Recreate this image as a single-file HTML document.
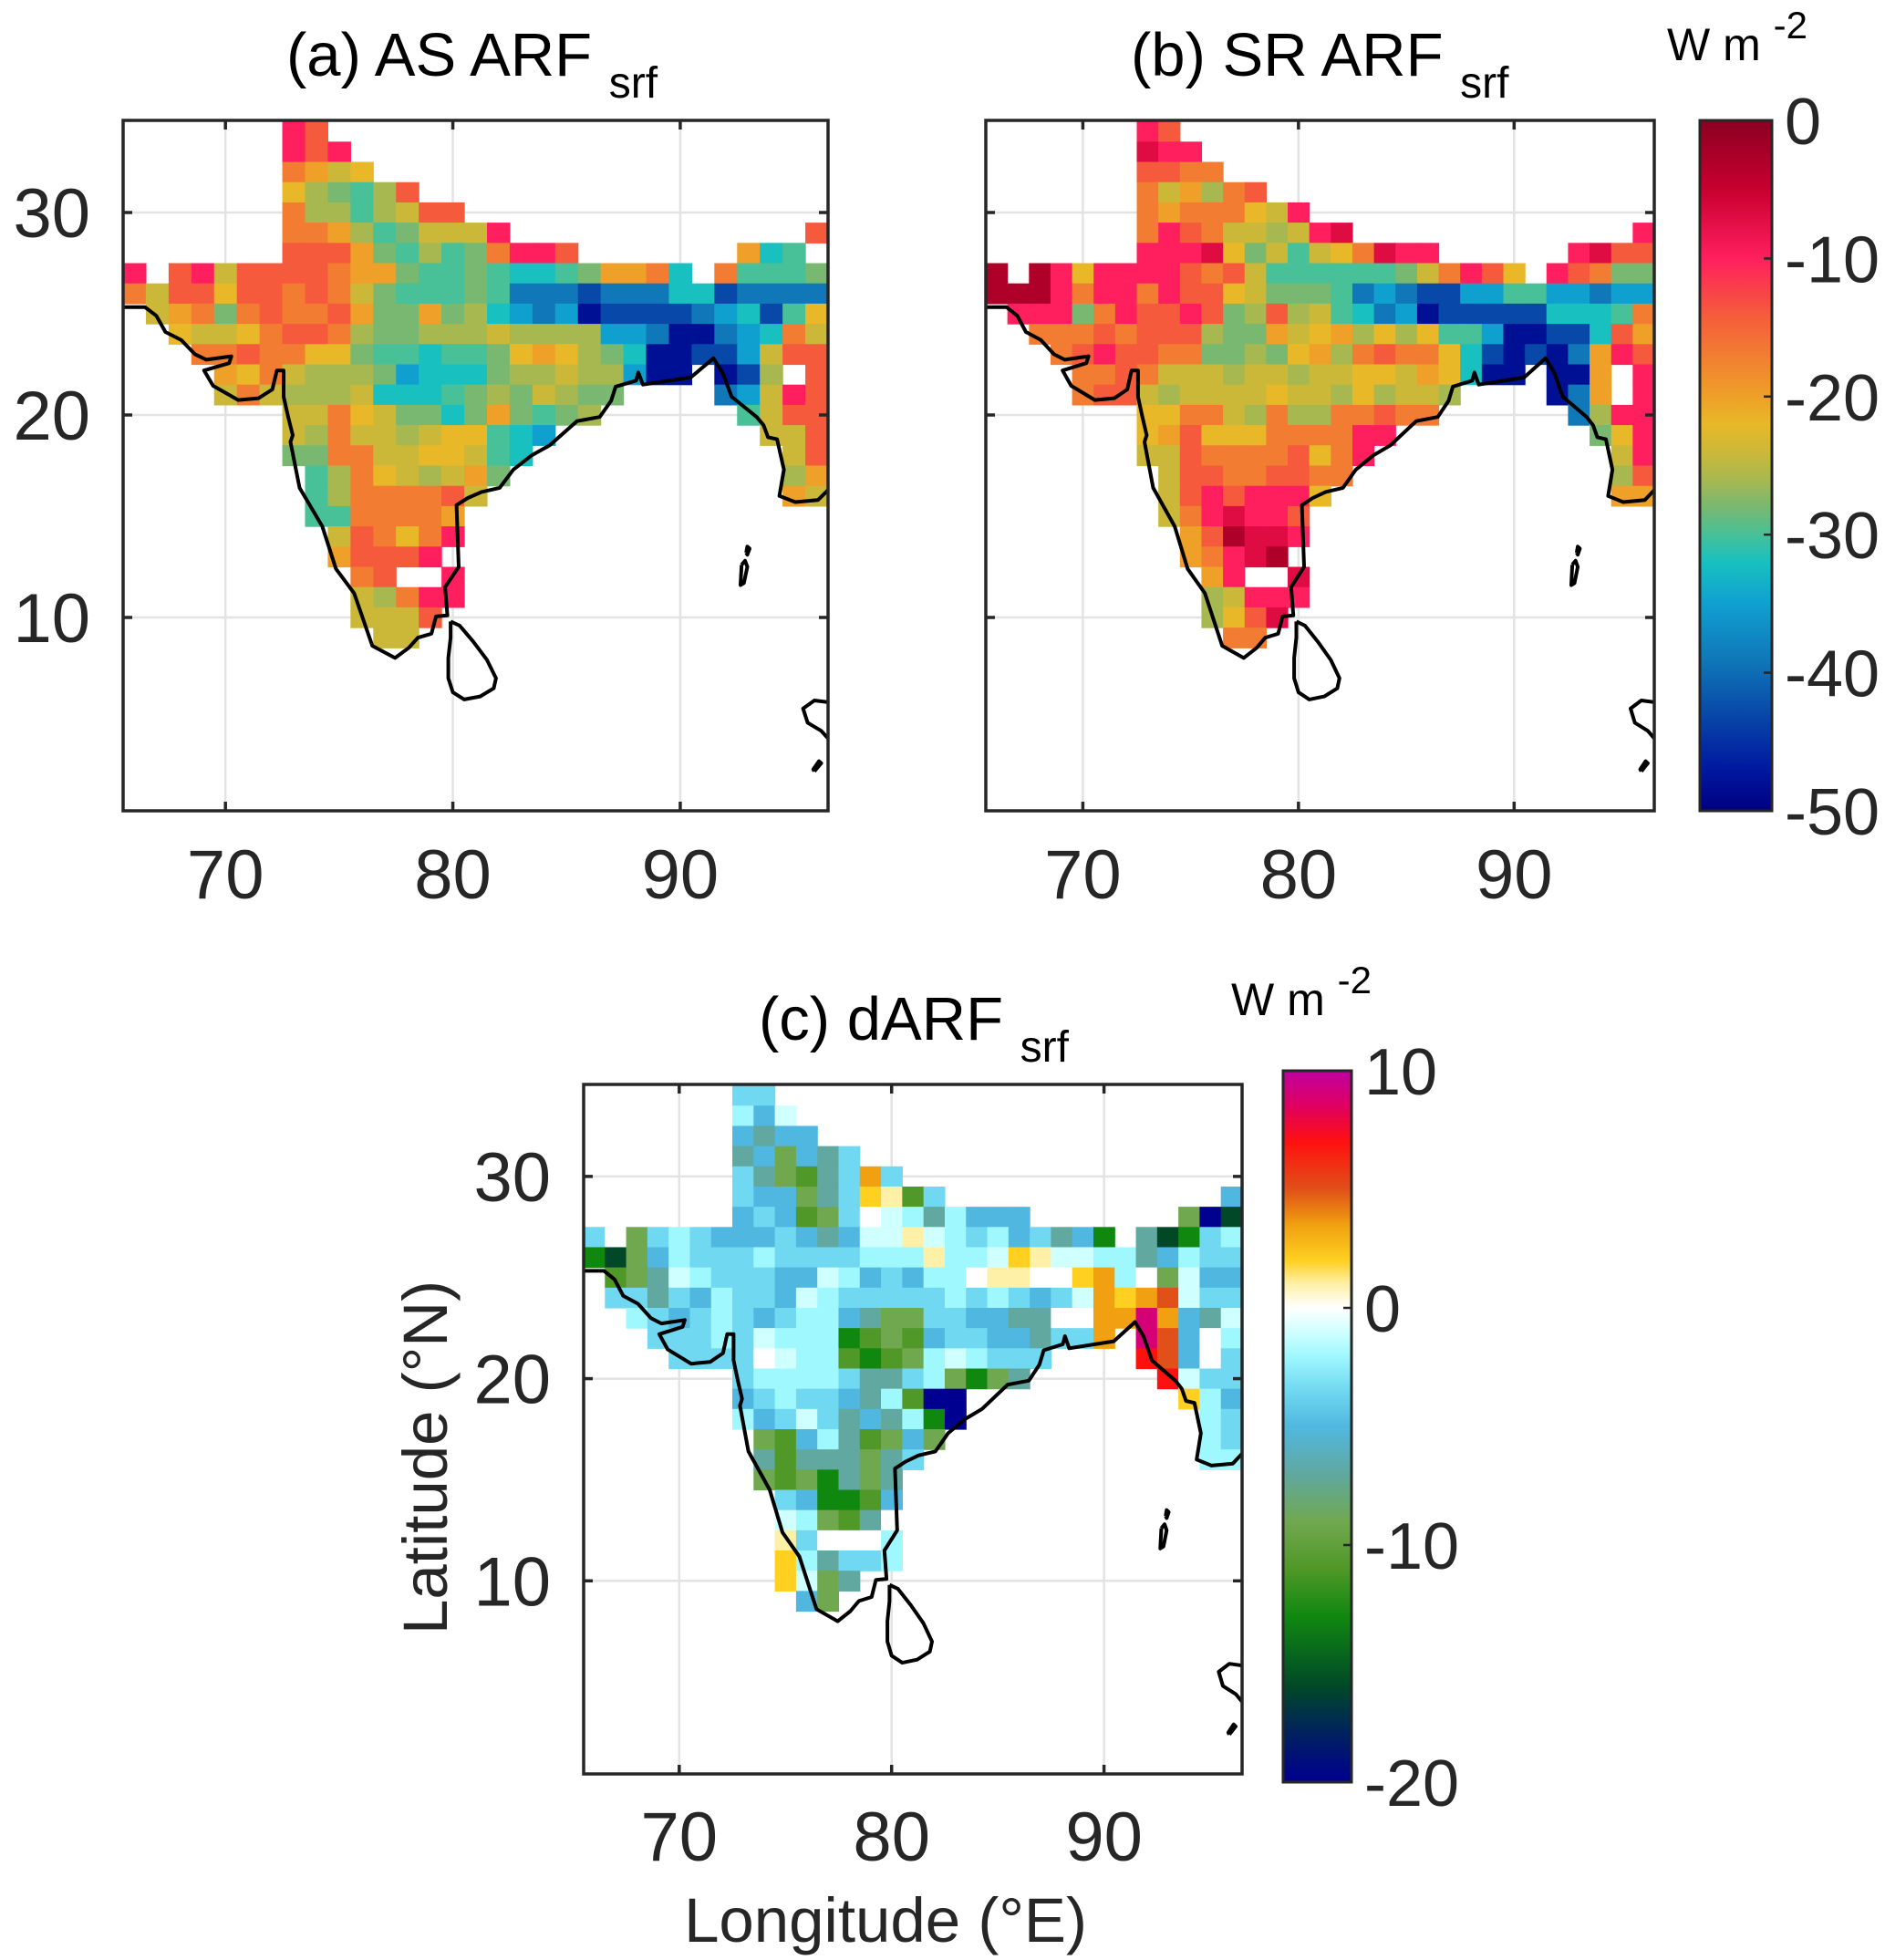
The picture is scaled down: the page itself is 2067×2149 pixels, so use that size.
<!DOCTYPE html>
<html><head><meta charset="utf-8"><style>
html,body{margin:0;padding:0;background:#fff}
svg{display:block;font-family:"Liberation Sans",Arial,sans-serif}
</style></head><body>
<svg id="fig" width="2067" height="2149" viewBox="0 0 2067 2149" xmlns="http://www.w3.org/2000/svg">
<defs>
<linearGradient id="gradAB" x1="0" y1="0" x2="0" y2="1"></linearGradient>
<linearGradient id="gradC" x1="0" y1="0" x2="0" y2="1"></linearGradient>
</defs>
<g id="layer"></g>
</svg>
<script>
// ---- data ----
const lats = [34,33,32,31,30,29,28,27,26,25,24,23,22,21,20,19,18,17,16,15,14,13,12,11,10,9,8];
const lonStart = 66;
const xTicks = [70,80,90];
const yTicks = [10,20,30];
const cbTicksAB = [0,-10,-20,-30,-40,-50];
const cbTicksC = [10,0,-10,-20];
// code -> W m-2 (panels a,b)
const codeValAB = {a:-3,b:-7,c:-10,d:-14,e:-17,f:-20,g:-22,h:-24,i:-26,j:-28,k:-30,l:-32,m:-35,n:-39,o:-43,p:-48};
// code -> W m-2 (panel c)
const codeValC = {A:9,B:7,C:5,D:3.5,E:2,F:1,G:0,H:-1,I:-2,J:-3.5,K:-5,L:-7,M:-9,N:-11,O:-13,P:-16,Q:-20};
const gridA = [
".......cd",".......cdc",".......efhg",".......gijkid",".......eiikihdd",
".......eefikjhhhc.............d",
".......dddfjkikjeccd.......flk",
"c.dchddddeffjkkjkllkjffel.ekkkj",
"ehddgddedehjkkkjknnnonnnllonnnn",
".hfejedeedfjjfjilmnmpoooonmlokg",
"..ghhgeddeijjiiihiiiimmnppnmleh",
"...eedeeggjkklkkjgfgijlppoomhdd",
"....fgehiiijmllljiihiimpp.poi.d",
"....hehiiihlllkjijhijj....nmhcd",
".......hheghjjljfjkji......khdd",
".......hiehhihggklm.........hhd",
".......jjeehhgghkl...........hd",
"........kieghihfj............if",
"........kieeeedh.............fh",
"........kkeeeef",".........hdegec",".........fdddc.","..........ed..c",
"..........hiecc","..........hhhd.","...........hh..",""];
const gridB = [
".......cd",".......bcc",".......ddee",".......ehfied",".......efeeeghc",
".......ecdehhihcb.............c",
".......cccbgjhkhgebcc......cbdd",
"a.acgccccdedhkkkkkkjhecdg.cdejj",
"aaaceccecddghjjjknmnoommkkmmnmm",
".cccjecddcdjidihklnmpooooolllke",
"..eeededddijjfhgfigigkkmppooldf",
"...edcddeejjijgfiedeeglopopnfcd",
"....eedehhhihhihhgghfglpp.ppf.c",
"....eddhihhhhghhigihhi....pnf.c",
".......ggeehieiieedee......nicc",
".......gfdgggeeeecc.........jgc",
".......hhdeeeedgec...........hc",
"........hddeeddee............id",
"........hdcdcccg.............ff",
"........hecbccd",".........fdabbc",".........fecba.","..........fc..b",
"..........ihccc","..........igdb.","...........ee..",""];
const gridC = [
".......JJ",".......IKH",".......KLKK",".......LKMKLJ",".......JLMNLJDJ",
".......JKKMLJEFNJ.............K",
".......KJKNMJGHILIKKK.......MQP",
"JGMJIJKKKJKLKHHFHIJIKJLKO.LPOJI",
"OPMKIJJJIJJJJIIIFIIHEFHHIILKIJJ",
".NMLHIJJJKKHIKJKIIGFFGGEDIGMHKK",
".JJLJKIJJKHIJJJJJIJIJKJHDEDCHJJ",
"..IJKJIJKJIIKLMMJJKKLLGGDDADKLH",
"...JJJIJHIIIONMNKJJKKLJJD.ACKGI",
"....JJJJGHIINONMIHIJJJ....BCKGJ",
".......JIIIIJLLJIMOML......BHJJ",
".......KJIJJKLINQQ..........EIK",
".......IKJHJLKLIOQ...........IJ",
"........MNKILNMKM............IJ",
"........LNLLLMLJ.............II",
"........MNMOLML",".........JKOONK",".........HIMNLG",".........FJGGGI",
".........EILJJI",".........EHML..","..........KM...",""];
// coastline (lon, lat)
const coastMain = [[65.4,25.33],[66.46,25.33],[66.96,24.9],[67.36,24.1],[68.06,23.7],[68.66,23.0],[69.16,22.73],[70.26,22.9],[70.16,22.56],[69.06,22.2],[69.46,21.44],[70.56,20.74],[71.46,20.83],[72.06,21.26],[72.26,22.2],[72.56,22.2],[72.56,20.9],[72.76,19.9],[72.96,19.0],[72.86,18.67],[73.26,16.4],[74.26,14.5],[74.86,12.4],[75.66,11.2],[76.46,8.6],[77.46,8.0],[78.06,8.5],[78.46,9.0],[79.06,9.2],[79.26,10.05],[79.76,10.1],[79.66,11.5],[80.26,12.5],[80.16,15.55],[80.66,15.9],[81.26,16.2],[82.06,16.4],[82.66,17.3],[83.46,18.0],[84.26,18.5],[85.46,19.7],[86.46,19.9],[86.96,20.7],[87.16,21.4],[88.06,21.7],[88.16,22.1],[88.36,21.5],[90.46,21.85],[91.46,22.8],[91.86,22.1],[92.26,20.9],[93.36,19.9],[93.66,19.5],[93.86,18.9],[94.26,18.8],[94.56,17.3],[94.36,16.0],[95.06,15.7],[96.06,15.8],[96.6,16.4]];
const coastLanka = [[79.9,9.8],[80.3,9.6],[80.9,8.8],[81.5,7.9],[81.9,7.0],[81.8,6.5],[81.2,6.1],[80.5,5.95],[80.0,6.3],[79.8,7.0],[79.8,8.0],[79.9,9.0],[79.9,9.8]];
const coastAndaman1 = [[92.7,12.6],[92.85,12.8],[92.95,12.5],[92.8,11.7],[92.65,11.6],[92.7,12.6]];
const coastAndaman2 = [[92.9,13.2],[92.95,13.5],[93.05,13.4],[92.95,13.1],[92.9,13.2]];
const coastMalay = [[96.6,5.8],[95.9,5.9],[95.4,5.5],[95.6,4.8],[96.2,4.4],[96.6,3.9]];
const coastIsle = [[95.9,2.4],[96.2,2.8],[96.1,2.9],[95.85,2.5],[95.9,2.4]];
// colormap stops
const stopsAB = [[0,'#8a0020'],[-5,'#c80030'],[-10,'#ff1f5e'],[-14,'#f55a3c'],[-17,'#f27d32'],[-20,'#eea028'],[-22,'#e8b828'],[-24,'#ccb838'],[-26,'#a8b850'],[-28,'#78b870'],[-30,'#48c098'],[-32,'#18c0c0'],[-35,'#10a0d0'],[-39,'#1078b8'],[-43,'#0848a8'],[-47,'#0018a0'],[-50,'#000080']];
const stopsC = [[10,'#c000a0'],[8.5,'#e00060'],[7,'#ff1010'],[5,'#e05018'],[3.5,'#f0a010'],[2,'#ffd020'],[1,'#fff0a8'],[0,'#ffffff'],[-1,'#d0ffff'],[-2,'#a0f8ff'],[-3.5,'#70d8f0'],[-5,'#50b8e0'],[-7,'#60a8a0'],[-9,'#70a850'],[-11,'#509828'],[-13,'#108810'],[-16,'#004828'],[-18,'#002060'],[-20,'#000090']];

// ---- drawing ----
const NS='http://www.w3.org/2000/svg';
const layer=document.getElementById('layer');
function el(tag,attrs,parent){const e=document.createElementNS(NS,tag);for(const k in attrs)e.setAttribute(k,attrs[k]);(parent||layer).appendChild(e);return e;}
function hex(c){return [parseInt(c.substr(1,2),16),parseInt(c.substr(3,2),16),parseInt(c.substr(5,2),16)];}
function cmap(stops,v){
  if(v>=stops[0][0])return stops[0][1];
  for(let i=0;i<stops.length-1;i++){const a=stops[i],b=stops[i+1];
    if(v<=a[0]&&v>=b[0]){const t=(a[0]-v)/(a[0]-b[0]);const ca=hex(a[1]),cb=hex(b[1]);
      return 'rgb('+ca.map((x,j)=>Math.round(x+(cb[j]-x)*t)).join(',')+')';}}
  return stops[stops.length-1][1];
}
function txt(x,y,s,size,anchor,parent,name){const t=el('text',{x:x,y:y,'font-size':size,'text-anchor':anchor||'start',fill:'#262626'},parent);t.textContent=s;
  
  return t;}

function panel(cfg){
  const g=el('g',{});
  
  
  const L=cfg.left,R=cfg.right,T=cfg.top,B=cfg.bottom;
  const xs=lon=>L+(lon-65.5)/(96.5-65.5)*(R-L);
  const ys=lat=>T+(34.55-lat)/(34.55-0.45)*(B-T);
  const cid='clip-'+cfg.name;
  const cp=el('clipPath',{id:cid},g);el('rect',{x:L,y:T,width:R-L,height:B-T},cp);
  xTicks.forEach(v=>{const l=el('line',{x1:xs(v),x2:xs(v),y1:T,y2:B,stroke:'#e3e3e3','stroke-width':2.5},g);
    });
  yTicks.forEach(v=>{const l=el('line',{x1:L,x2:R,y1:ys(v),y2:ys(v),stroke:'#e3e3e3','stroke-width':2.5},g);
    });
  const cg=el('g',{'clip-path':'url(#'+cid+')'},g);
  
  
  cfg.grid.forEach((row,ri)=>{
    const r=row.padEnd(31,'.');const lat=lats[ri];
    for(let ci=0;ci<31;ci++){const ch=r[ci];if(ch==='.')continue;const val=cfg.codes[ch];if(val===undefined)continue;
      const lon=lonStart+ci;
      const x0=xs(lon-0.5),x1=xs(lon+0.5),y0=ys(lat+0.5),y1=ys(lat-0.5);
      const c=el('rect',{x:x0.toFixed(2),y:y0.toFixed(2),width:(x1-x0+0.6).toFixed(2),height:(y1-y0+0.6).toFixed(2),fill:cmap(cfg.stops,val)},cg);
      
      
    }});
  [coastMain,coastLanka,coastAndaman1,coastAndaman2,coastMalay,coastIsle].forEach((cs,i)=>{
    const p=el('polyline',{points:cs.map(q=>xs(q[0]).toFixed(1)+','+ys(q[1]).toFixed(1)).join(' '),fill:'none',stroke:'#000','stroke-width':4,'stroke-linejoin':'round','clip-path':'url(#'+cid+')'},g);
    });
  const bx=el('rect',{x:L,y:T,width:R-L,height:B-T,fill:'none',stroke:'#262626','stroke-width':3.5},g);
  
  xTicks.forEach(v=>{el('line',{x1:xs(v),x2:xs(v),y1:B,y2:B-10,stroke:'#262626','stroke-width':3.5},g);el('line',{x1:xs(v),x2:xs(v),y1:T,y2:T+10,stroke:'#262626','stroke-width':3.5},g);
    txt(xs(v),cfg.xlabY,String(v),76,'middle',g,'x-tick-label-'+v);});
  yTicks.forEach(v=>{el('line',{x1:L,x2:L+10,y1:ys(v),y2:ys(v),stroke:'#262626','stroke-width':3.5},g);el('line',{x1:R,x2:R-10,y1:ys(v),y2:ys(v),stroke:'#262626','stroke-width':3.5},g);
    if(cfg.ylab)txt(L-36,ys(v)+27,String(v),76,'end',g,'y-tick-label-'+v);});
  const t=el('text',{x:cfg.titleX,y:T-49,'font-size':67,fill:'#000'},g);
  
  t.appendChild(document.createTextNode(cfg.title+' '));
  const s=el('tspan',{'font-size':48,dy:24},t);s.textContent='srf';
}
function colorbar(cfg){
  const g=el('g',{});
  
  
  const grad=document.getElementById(cfg.grad);
  const vmax=cfg.stops[0][0],vmin=cfg.stops[cfg.stops.length-1][0];
  cfg.stops.forEach(s=>el('stop',{offset:((vmax-s[0])/(vmax-vmin)).toFixed(4),'stop-color':s[1]},grad));
  el('rect',{x:cfg.x,y:cfg.top,width:cfg.w,height:cfg.bottom-cfg.top,fill:'url(#'+cfg.grad+')',stroke:'#262626','stroke-width':3},g);
  const yv=v=>cfg.top+(vmax-v)/(vmax-vmin)*(cfg.bottom-cfg.top);
  cfg.ticks.forEach(v=>{el('line',{x1:cfg.x+cfg.w-9,x2:cfg.x+cfg.w,y1:yv(v),y2:yv(v),stroke:'#262626','stroke-width':2.5},g);
    txt(cfg.x+cfg.w+14,yv(v)+26,String(v),72,'start',g,'colorbar-tick-'+v);});
  const u=el('text',{x:cfg.ux,y:cfg.uy,'font-size':50,fill:'#000'},g);
  
  u.appendChild(document.createTextNode('W m '));
  const sp=el('tspan',{'font-size':42,dy:-24},u);sp.textContent='-2';
}
panel({name:'panel-a-as-arf',grid:gridA,codes:codeValAB,stops:stopsAB,left:135,right:908,top:132,bottom:889,xlabY:985,ylab:true,title:'(a) AS ARF',titleX:314});
panel({name:'panel-b-sr-arf',grid:gridB,codes:codeValAB,stops:stopsAB,left:1081,right:1814,top:132,bottom:889,xlabY:985,ylab:false,title:'(b) SR ARF',titleX:1240});
panel({name:'panel-c-darf',grid:gridC,codes:codeValC,stops:stopsC,left:640,right:1362,top:1189,bottom:1945,xlabY:2040,ylab:true,title:'(c) dARF',titleX:832});
colorbar({name:'colorbar-ab',grad:'gradAB',stops:stopsAB,ticks:cbTicksAB,x:1864,w:79,top:132,bottom:889,ux:1828,uy:66});
colorbar({name:'colorbar-c',grad:'gradC',stops:stopsC,ticks:cbTicksC,x:1407,w:75,top:1174,bottom:1954,ux:1350,uy:1113});
const xl=txt(971,2129,'Longitude (°E)',69,'middle',null,'x-axis-title');
const yl=txt(0,0,'Latitude (°N)',69,'middle',null,'y-axis-title');
yl.setAttribute('transform','translate(490,1598) rotate(-90)');
</script>
</body></html>
